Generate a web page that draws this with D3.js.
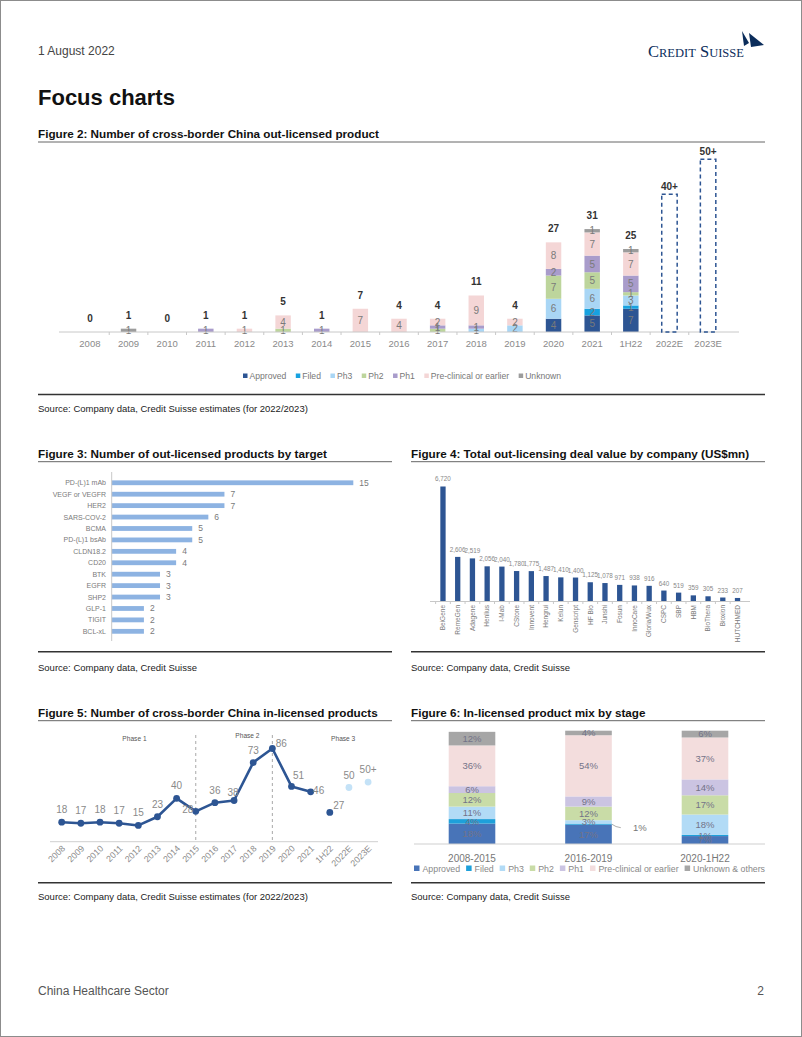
<!DOCTYPE html>
<html><head><meta charset="utf-8">
<script src="https://cdn.jsdelivr.net/npm/d3@7"></script>
<style>body{margin:0;background:#fff}svg{display:block;font-family:"Liberation Sans",Arial,Helvetica,sans-serif}</style>
</head><body><svg id="c" width="802" height="1037"></svg>
<script>
// ---------- Figure 2 data ----------
const f2Cats = ["2008","2009","2010","2011","2012","2013","2014","2015","2016","2017","2018","2019","2020","2021","1H22"];
const f2EstCats = ["2022E","2023E"];
const f2Stages = ["Approved","Filed","Ph3","Ph2","Ph1","Pre-clinical or earlier","Unknown"];
const f2Approved = [0,0,0,0,0,0,0,0,0,0,0,0,4,5,7];
const f2Filed    = [0,0,0,0,0,0,0,0,0,0,0,0,0,2,1];
const f2Ph3      = [0,0,0,0,0,0,0,0,0,0,1,2,6,6,3];
const f2Ph2      = [0,0,0,0,0,1,0,0,0,1,0,0,7,5,1];
const f2Ph1      = [0,0,0,1,0,0,1,0,0,1,1,0,2,5,5];
const f2Pre      = [0,0,0,0,1,4,0,7,4,2,9,2,8,7,7];
const f2Unknown  = [0,1,0,0,0,0,0,0,0,0,0,0,0,1,1];
const f2Totals   = [0,1,0,1,1,5,1,7,4,4,11,4,27,31,25];
const f2EstValues = [41.5, 52];
const f2EstLabels = ["40+","50+"];

// ---------- Figure 3 data ----------
const f3Targets = ["PD-(L)1 mAb","VEGF or VEGFR","HER2","SARS-COV-2","BCMA","PD-(L)1 bsAb","CLDN18.2","CD20","BTK","EGFR","SHP2","GLP-1","TIGIT","BCL-xL"];
const f3Counts  = [15,7,7,6,5,5,4,4,3,3,3,2,2,2];

// ---------- Figure 4 data ----------
const f4Companies = ["BeiGene","RemeGen","Adagene","Henlius","I-Mab","CStone","Innovent","Hengrui","Kelun","Genscript","HF Bio","Junshi","Fosun","InnoCare","Gloria/Wux","CSPC","SBP","HBM","BioThera","Bioxion","HUTCHMED"];
const f4Values    = [6720,2606,2519,2056,2040,1780,1775,1487,1410,1400,1125,1078,971,938,916,640,519,359,305,233,207];

// ---------- Figure 5 data ----------
const f5Cats = ["2008","2009","2010","2011","2012","2013","2014","2015","2016","2017","2018","2019","2020","2021","1H22","2022E","2023E"];
const f5Line = [18,17,18,17,15,23,40,28,36,38,73,86,51,46];
const f5H1Cat = "1H22";
const f5H1Value = 27;
const f5EstCats = ["2022E","2023E"];
const f5EstValues = [50,55];
const f5EstLabels = ["50","50+"];
const f5Phases = ["Phase 1","Phase 2","Phase 3"];
const f5PhaseBreaks = ["2015","2019"];

// ---------- Figure 6 data ----------
const f6Periods = ["2008-2015","2016-2019","2020-1H22"];
const f6Stages = ["Approved","Filed","Ph3","Ph2","Ph1","Pre-clinical or earlier","Unknown & others"];
const f6Approved = [18,17,7];
const f6Filed    = [4,1,1];
const f6Ph3      = [11,3,18];
const f6Ph2      = [12,12,17];
const f6Ph1      = [6,9,14];
const f6Pre      = [36,54,37];
const f6Unknown  = [12,4,6];

// ---------- drawing ----------
const svg = d3.select("#c");
function txt(g, x, y, s, o = {}) {
  return g.append("text").attr("x", x).attr("y", y).text(s)
    .attr("font-size", o.size || 10).attr("fill", o.fill || "#222")
    .attr("font-weight", o.weight || "normal").attr("text-anchor", o.anchor || "start");
}
function hline(x1, x2, y, color, w) {
  svg.append("line").attr("x1", x1).attr("x2", x2).attr("y1", y).attr("y2", y)
    .attr("stroke", color).attr("stroke-width", w);
}

// page frame
svg.append("rect").attr("x", 0.5).attr("y", 0.5).attr("width", 801).attr("height", 1036)
  .attr("fill", "none").attr("stroke", "#8c8c8c");

// header
txt(svg, 38, 55, "1 August 2022", {size: 12, fill: "#444"});
const logo = svg.append("text").attr("x", 648).attr("y", 57).attr("fill", "#0b2d5b")
  .attr("font-family", '"Liberation Serif", serif');
logo.append("tspan").attr("font-size", 16.5).text("C");
logo.append("tspan").attr("font-size", 12.5).text("REDIT");
logo.append("tspan").attr("font-size", 16.5).text(" S");
logo.append("tspan").attr("font-size", 12.5).text("UISSE");
svg.append("path").attr("d", "M742,31 L749,43 L744,46 Z").attr("fill", "#0b2d5b");
svg.append("path").attr("d", "M749,33 L764,45 L751,47 Z").attr("fill", "#0b2d5b");
txt(svg, 38, 105, "Focus charts", {size: 22, weight: "bold", fill: "#111"});

// footer
txt(svg, 38, 995, "China Healthcare Sector", {size: 12, fill: "#555"});
txt(svg, 764, 995, "2", {size: 12, fill: "#555", anchor: "end"});

// titles and source rules
const TS = 11.7;
txt(svg, 38, 138, "Figure 2: Number of cross-border China out-licensed product", {size: TS, weight: "bold", fill: "#111"});
hline(38, 765, 142, "#666", 1);
hline(38, 765, 394.5, "#333", 1.6);
txt(svg, 38, 412, "Source: Company data, Credit Suisse estimates (for 2022/2023)", {size: 9.5});

txt(svg, 38, 458, "Figure 3: Number of out-licensed products by target", {size: TS, weight: "bold", fill: "#111"});
hline(38, 392, 461.7, "#666", 1);
hline(38, 392, 651.7, "#333", 1.6);
txt(svg, 38, 670.5, "Source: Company data, Credit Suisse", {size: 9.5});

txt(svg, 411, 458, "Figure 4: Total out-licensing deal value by company (US$mn)", {size: TS, weight: "bold", fill: "#111"});
hline(411, 765, 461.7, "#666", 1);
hline(411, 765, 651.7, "#333", 1.6);
txt(svg, 411, 670.5, "Source: Company data, Credit Suisse", {size: 9.5});

txt(svg, 38, 717, "Figure 5: Number of cross-border China in-licensed products", {size: TS, weight: "bold", fill: "#111"});
hline(38, 392, 720.7, "#666", 1);
hline(38, 392, 882.7, "#333", 1.6);
txt(svg, 38, 900, "Source: Company data, Credit Suisse estimates (for 2022/2023)", {size: 9.5});

txt(svg, 411, 717, "Figure 6: In-licensed product mix by stage", {size: TS, weight: "bold", fill: "#111"});
hline(411, 765, 720.7, "#666", 1);
hline(411, 765, 882.7, "#333", 1.6);
txt(svg, 411, 900, "Source: Company data, Credit Suisse", {size: 9.5});

// ================= Figure 2 =================
(function () {
  const g = svg.append("g");
  const colors = ["#2d5593","#17a2e0","#a9d6f5","#bdd59c","#a99ccb","#f4d6d6","#9c9c9c"];
  const allCats = f2Cats.concat(f2EstCats);
  const x = d3.scaleBand().domain(allCats).range([59, 739]).padding(0.6);
  const y = d3.scaleLinear().domain([0, 10]).range([332, 298.8]);
  const series = [f2Approved, f2Filed, f2Ph3, f2Ph2, f2Ph1, f2Pre, f2Unknown];
  const rows = f2Cats.map((c, i) => {
    const r = {cat: c};
    f2Stages.forEach((s, k) => r[s] = series[k][i]);
    return r;
  });
  const stack = d3.stack().keys(f2Stages)(rows);
  stack.forEach((layer, k) => {
    layer.forEach(d => {
      const v = d[1] - d[0];
      if (v <= 0) return;
      g.append("rect").attr("x", x(d.data.cat)).attr("width", x.bandwidth())
        .attr("y", y(d[1])).attr("height", y(d[0]) - y(d[1])).attr("fill", colors[k]);
    });
  });
  stack.forEach((layer, k) => {
    layer.forEach(d => {
      const v = d[1] - d[0];
      if (v <= 0) return;
      txt(g, x(d.data.cat) + x.bandwidth() / 2, (y(d[0]) + y(d[1])) / 2 + 3.6, v,
        {size: 10, fill: "#7a7a7a", anchor: "middle"});
    });
  });
  // axis
  g.append("line").attr("x1", 59).attr("x2", 739).attr("y1", 332).attr("y2", 332).attr("stroke", "#c8c8c8");
  allCats.forEach((c, i) => {
    const bx = x(c) - x.step() * x.paddingInner() / 2;
    if (i > 0) g.append("line").attr("x1", bx).attr("x2", bx).attr("y1", 332).attr("y2", 335).attr("stroke", "#c8c8c8");
    txt(g, x(c) + x.bandwidth() / 2, 346.5, c, {size: 9.5, fill: "#8a8a8a", anchor: "middle"});
  });
  // totals
  f2Cats.forEach((c, i) => {
    txt(g, x(c) + x.bandwidth() / 2, y(f2Totals[i]) - 10, f2Totals[i],
      {size: 10, weight: "bold", fill: "#333", anchor: "middle"});
  });
  // estimates
  f2EstCats.forEach((c, i) => {
    g.append("rect").attr("x", x(c)).attr("width", x.bandwidth())
      .attr("y", y(f2EstValues[i])).attr("height", y(0) - y(f2EstValues[i]))
      .attr("fill", "none").attr("stroke", "#2d5593").attr("stroke-width", 1.5)
      .attr("stroke-dasharray", "4,3");
    txt(g, x(c) + x.bandwidth() / 2, y(f2EstValues[i]) - 4, f2EstLabels[i],
      {size: 10, weight: "bold", fill: "#333", anchor: "middle"});
  });
  // legend
  const lg = g.append("g");
  let lx = 243;
  f2Stages.forEach((s, k) => {
    lg.append("rect").attr("x", lx).attr("y", 373.5).attr("width", 4.5).attr("height", 4.5).attr("fill", colors[k]);
    const t = txt(lg, lx + 6.5, 379, s, {size: 8.6, fill: "#777"});
    lx += 6.5 + t.node().getComputedTextLength() + 9.5;
  });
})();

// ================= Figure 3 =================
(function () {
  const g = svg.append("g");
  const y = d3.scaleBand().domain(f3Targets).range([473.75, 640.35]).padding(0.58);
  const x = d3.scaleLinear().domain([0, 15]).range([111.7, 353.3]);
  g.selectAll("rect").data(f3Targets).enter().append("rect")
    .attr("x", x(0)).attr("y", d => y(d)).attr("height", y.bandwidth())
    .attr("width", (d, i) => x(f3Counts[i]) - x(0)).attr("fill", "#8db3e2");
  g.append("line").attr("x1", 111.7).attr("x2", 111.7).attr("y1", 472).attr("y2", 641).attr("stroke", "#c8c8c8");
  f3Targets.forEach((t, i) => {
    const cy = y(t) + y.bandwidth() / 2;
    txt(g, 106, cy + 2.5, t, {size: 7, fill: "#7a7a7a", anchor: "end"});
    txt(g, x(f3Counts[i]) + 6, cy + 3, f3Counts[i], {size: 8.5, fill: "#7a7a7a"});
  });
})();

// ================= Figure 4 =================
(function () {
  const g = svg.append("g");
  const x = d3.scaleBand().domain(f4Companies).range([430.9, 749.6]).padding(0.64);
  const y = d3.scaleLinear().domain([0, 7000]).range([601.5, 481.7]);
  const fmt = d3.format(",");
  g.selectAll("rect").data(f4Companies).enter().append("rect")
    .attr("x", d => x(d)).attr("width", x.bandwidth())
    .attr("y", (d, i) => y(f4Values[i])).attr("height", (d, i) => y(0) - y(f4Values[i]))
    .attr("fill", "#2d5593");
  g.append("line").attr("x1", 430).attr("x2", 750).attr("y1", 601.5).attr("y2", 601.5).attr("stroke", "#c8c8c8");
  f4Companies.forEach((c, i) => {
    const cx = x(c) + x.bandwidth() / 2;
    const bx = x(c) - x.step() * x.paddingInner() / 2;
    g.append("line").attr("x1", bx).attr("x2", bx).attr("y1", 601.5).attr("y2", 604).attr("stroke", "#c8c8c8");
    txt(g, cx, y(f4Values[i]) - 5, fmt(f4Values[i]), {size: 6.3, fill: "#888", anchor: "middle"});
    g.append("text").attr("transform", `translate(${cx + 2.3},605) rotate(-90)`)
      .attr("text-anchor", "end").attr("font-size", 6.5).attr("fill", "#7a7a7a").text(c);
  });
})();

// ================= Figure 5 =================
(function () {
  const g = svg.append("g");
  const x = d3.scalePoint().domain(f5Cats).range([61.7, 368.1]);
  const y = d3.scaleLinear().domain([0, 100]).range([841.7, 733.3]);
  // phase separators
  f5PhaseBreaks.forEach(c => {
    g.append("line").attr("x1", x(c)).attr("x2", x(c)).attr("y1", 735).attr("y2", 841.7)
      .attr("stroke", "#a8a8a8").attr("stroke-dasharray", "3,3");
  });
  const phaseIdx = [3.8, 9.7, 14.7];
  const phaseY = [740.5, 737.5, 740.5];
  f5Phases.forEach((p, i) => {
    txt(g, 61.7 + phaseIdx[i] * x.step(), phaseY[i], p, {size: 6.6, fill: "#555", anchor: "middle"});
  });
  g.append("line").attr("x1", 50).attr("x2", 378).attr("y1", 841.7).attr("y2", 841.7).attr("stroke", "#cfcfcf");
  const lineCats = f5Cats.slice(0, f5Line.length);
  const line = d3.line().x((d, i) => x(lineCats[i])).y(d => y(d));
  g.append("path").datum(f5Line).attr("d", line).attr("fill", "none")
    .attr("stroke", "#2d5593").attr("stroke-width", 2.6).attr("stroke-linejoin", "round");
  f5Line.forEach((v, i) => {
    g.append("circle").attr("cx", x(lineCats[i])).attr("cy", y(v)).attr("r", 3.4).attr("fill", "#2d5593");
  });
  g.append("circle").attr("cx", x(f5H1Cat)).attr("cy", y(f5H1Value)).attr("r", 3.4).attr("fill", "#2d5593");
  f5EstCats.forEach((c, i) => {
    g.append("circle").attr("cx", x(c)).attr("cy", y(f5EstValues[i])).attr("r", 3.4).attr("fill", "#c4e2f7");
  });
  // value labels
  const lab = {size: 10, fill: "#8a8a8a", anchor: "middle"};
  const offs = {"2015": [-8, 2], "2017": [-1, -5], "2019": [9, -1], "2020": [7, -7], "2021": [8, 2], "1H22": [9, -3]};
  f5Line.forEach((v, i) => {
    const c = lineCats[i];
    const o = offs[c] || [0, -9];
    txt(g, x(c) + o[0], y(v) + o[1], v, lab);
  });
  txt(g, x(f5H1Cat) + offs["1H22"][0], y(f5H1Value) + offs["1H22"][1], f5H1Value, lab);
  f5EstCats.forEach((c, i) => {
    txt(g, x(c), y(f5EstValues[i]) - 9, f5EstLabels[i], lab);
  });
  f5Cats.forEach(c => {
    g.append("text").attr("transform", `translate(${x(c) + 4},849) rotate(-45)`)
      .attr("text-anchor", "end").attr("font-size", 8.8).attr("fill", "#8a8a8a").text(c);
  });
})();

// ================= Figure 6 =================
(function () {
  const g = svg.append("g");
  const colors = ["#4874b8","#1ea0da","#b2dbf6","#c9dca7","#cbc4e2","#f3dddd","#a6a6a6"];
  const x = d3.scaleBand().domain(f6Periods).range([413.75, 763.25]).paddingInner(0.6).paddingOuter(0.3);
  const y = d3.scaleLinear().domain([0, 100]).range([844, 730.7]);
  const series = [f6Approved, f6Filed, f6Ph3, f6Ph2, f6Ph1, f6Pre, f6Unknown];
  const rows = f6Periods.map((p, i) => {
    const r = {p};
    f6Stages.forEach((s, k) => r[s] = series[k][i]);
    return r;
  });
  const stack = d3.stack().keys(f6Stages)(rows);
  stack.forEach((layer, k) => layer.forEach(d => {
    g.append("rect").attr("x", x(d.data.p)).attr("width", x.bandwidth())
      .attr("y", y(d[1])).attr("height", y(d[0]) - y(d[1])).attr("fill", colors[k]);
  }));
  g.append("line").attr("x1", 414).attr("x2", 765).attr("y1", 844).attr("y2", 844).attr("stroke", "#cfcfcf");
  stack.forEach((layer, k) => layer.forEach(d => {
    const v = d[1] - d[0];
    const cx = x(d.data.p) + x.bandwidth() / 2;
    const cy = (y(d[0]) + y(d[1])) / 2;
    if (d.data.p === "2016-2019" && f6Stages[k] === "Filed") {
      const rx = x(d.data.p) + x.bandwidth();
      g.append("path").attr("d", `M${rx},${cy} Q${rx + 4},${cy + 3} ${rx + 9},${cy + 3.5}`)
        .attr("fill", "none").attr("stroke", "#999").attr("stroke-width", 0.8);
      txt(g, rx + 28, cy + 6.5, v + "%", {size: 9.5, fill: "#777", anchor: "middle"});
      return;
    }
    txt(g, cx, cy + 3.4, v + "%", {size: 9.5, fill: "#737388", anchor: "middle"});
  }));
  f6Periods.forEach(p => {
    txt(g, x(p) + x.bandwidth() / 2, 861.5, p, {size: 10, fill: "#777", anchor: "middle"});
  });
  // legend
  const lg = g.append("g");
  const items = f6Stages.map((s, k) => {
    const t = txt(lg, 0, 871.5, s, {size: 8.8, fill: "#888"});
    return {t, w: t.node().getComputedTextLength(), k};
  });
  const sq = 8.5;
  const total = d3.sum(items, d => d.w + sq);
  const gap = (765 - 414 - total) / (items.length - 1);
  let lx = 414;
  items.forEach(it => {
    lg.append("rect").attr("x", lx).attr("y", 865.5).attr("width", 5.5).attr("height", 5.5).attr("fill", colors[it.k]);
    it.t.attr("x", lx + sq);
    lx += sq + it.w + gap;
  });
})();
</script></body></html>
